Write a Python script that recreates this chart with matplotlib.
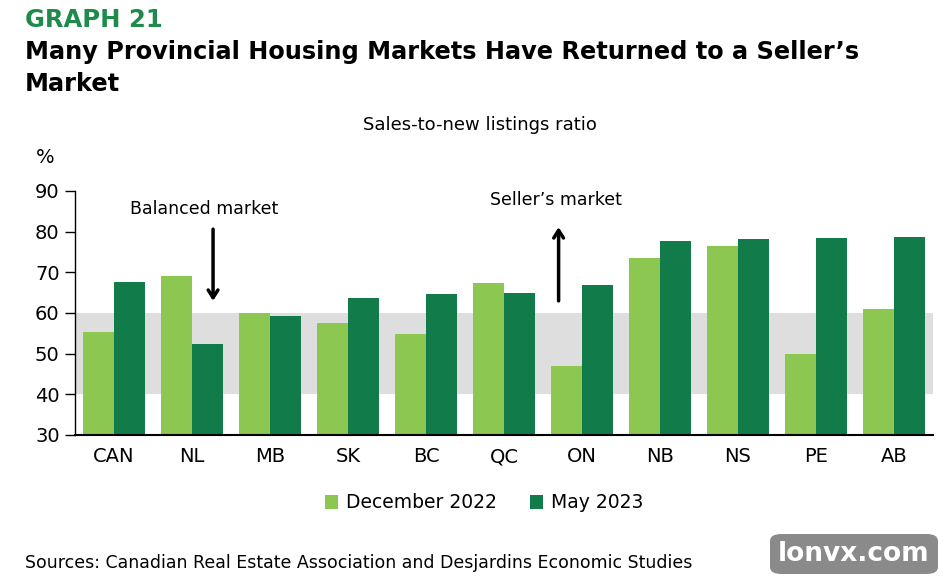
import numpy as np
import matplotlib.pyplot as plt
from matplotlib.patches import FancyBboxPatch

provinces = ["CAN", "NL", "MB", "SK", "BC", "QC", "ON", "NB", "NS", "PE", "AB"]
dec_2022 = [55.4, 69.1, 60.1, 57.5, 54.8, 67.3, 47.0, 73.5, 76.5, 50.0, 61.1]
may_2023 = [67.7, 52.5, 59.3, 63.8, 64.6, 65.0, 67.0, 77.7, 78.1, 78.5, 78.8]
yticks = [30, 40, 50, 60, 70, 80, 90]

light = "#8BC751"
dark = "#127B4A"
W, H = 946, 582

fig = plt.figure(figsize=(W / 100, H / 100), dpi=100)
ax = fig.add_axes([75 / W, (H - 435) / H, (933 - 75) / W, (435 - 191) / H])

x = np.arange(len(provinces))
bw = 0.4
ax.axhspan(40, 60, color="#DEDEDE", zorder=0, lw=0)
ax.bar(x - bw / 2, dec_2022, bw, color=light, label="December 2022", zorder=2)
ax.bar(x + bw / 2, may_2023, bw, color=dark, label="May 2023", zorder=2)

ax.set_xlim(-0.5, len(provinces) - 0.5)
ax.set_ylim(30, 90)
ax.set_yticks(yticks)
ax.set_xticks(x)
ax.set_xticklabels(provinces)
ax.tick_params(axis="x", length=0, pad=9, labelsize=14)
ax.tick_params(axis="y", length=7, width=1, labelsize=14, pad=4)
for s in ["top", "right"]:
    ax.spines[s].set_visible(False)
ax.spines["left"].set_linewidth(1)
ax.spines["bottom"].set_linewidth(1.5)

# arrows and labels
arrow = dict(arrowstyle="->,head_width=0.35,head_length=0.55", color="black", lw=2.5)
ax.annotate("", xy=(1.27, 62.3), xytext=(1.27, 81.3), arrowprops=arrow, zorder=3)
ax.text(1.15, 85.5, "Balanced market", ha="center", va="center", fontsize=12.5)
ax.annotate("", xy=(5.7, 81.8), xytext=(5.7, 62.3), arrowprops=arrow, zorder=3)
ax.text(5.67, 87.8, "Seller\u2019s market", ha="center", va="center", fontsize=12.5)

fig.text(45 / W, 1 - 158 / H, "%", ha="center", va="center", fontsize=14)
fig.text(480 / W, 1 - 125 / H, "Sales-to-new listings ratio", ha="center", va="center", fontsize=13)

fig.text(25 / W, 1 - 20 / H, "GRAPH 21", ha="left", va="center", fontsize=17.5,
         fontweight="bold", color="#1E8B4C")
fig.text(25 / W, 1 - 52 / H, "Many Provincial Housing Markets Have Returned to a Seller\u2019s",
         ha="left", va="center", fontsize=17.3, fontweight="bold")
fig.text(25 / W, 1 - 84 / H, "Market", ha="left", va="center", fontsize=17.3, fontweight="bold")

fig.legend(loc="center", bbox_to_anchor=(484 / W, 1 - 503 / H), ncol=2, frameon=False,
           fontsize=13.5, handlelength=0.7, handleheight=0.7, handletextpad=0.4, columnspacing=1.8)

fig.text(25 / W, 1 - 563 / H, "Sources: Canadian Real Estate Association and Desjardins Economic Studies",
         ha="left", va="center", fontsize=12.5)

# watermark
box = FancyBboxPatch((770 / W, 8 / H), 168 / W, 40 / H, boxstyle="round,pad=0,rounding_size=0.012",
                     transform=fig.transFigure, facecolor="#8A8A8A", edgecolor="none")
fig.patches.append(box)
fig.text(854 / W, 28 / H, "lonvx.com", ha="center", va="center", fontsize=19,
         fontweight="bold", color="white")

fig.savefig("out.png", dpi=100)
